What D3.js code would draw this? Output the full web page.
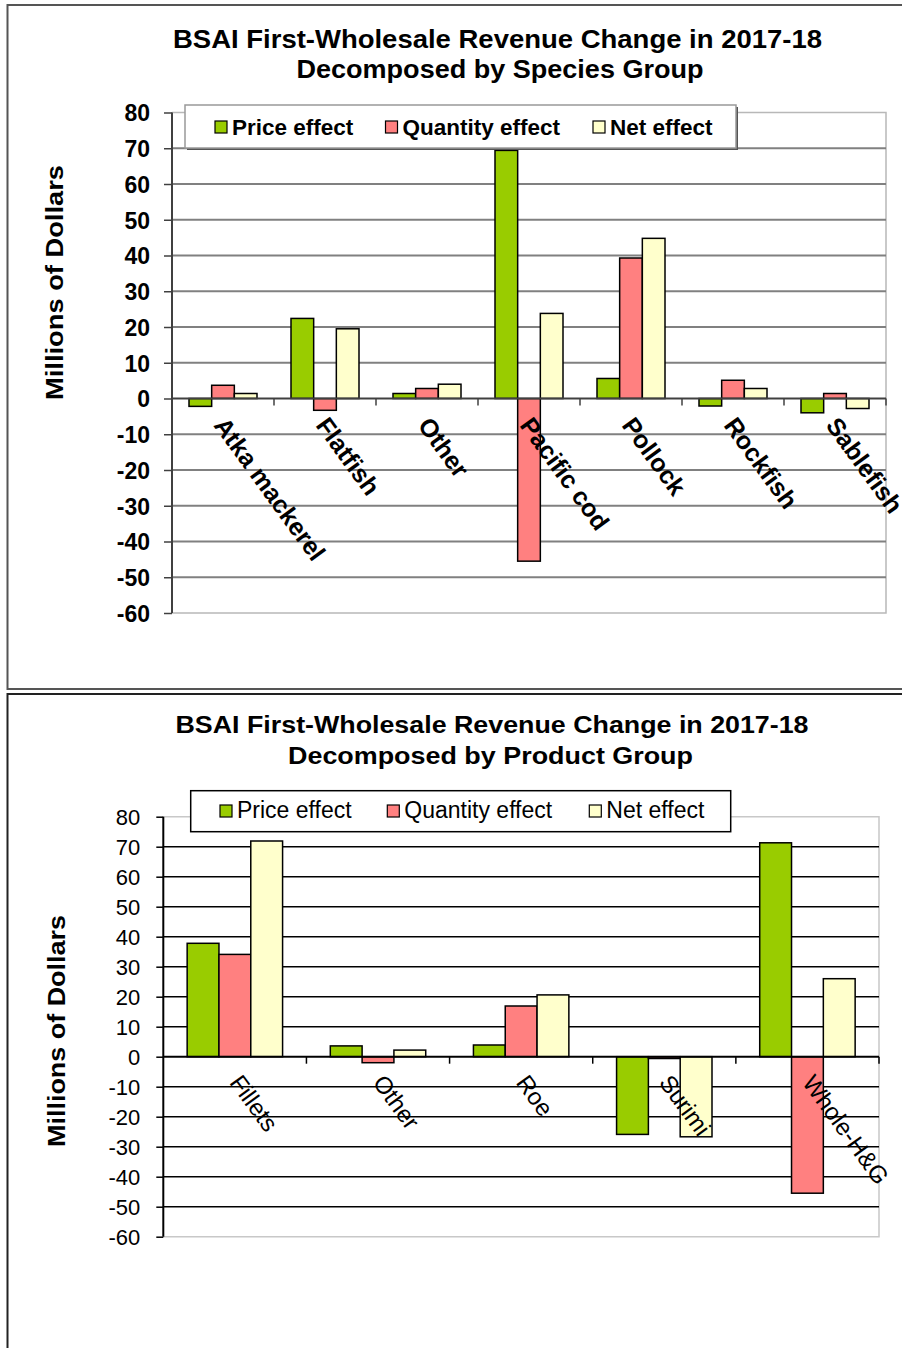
<!DOCTYPE html>
<html>
<head>
<meta charset="utf-8">
<script src="https://cdn.jsdelivr.net/npm/d3@7"></script>
<style>
  html, body { margin: 0; padding: 0; background: #fff; }
  svg { display: block; }
  text { font-family: "Liberation Sans", Arial, sans-serif; fill: #000; }
</style>
</head>
<body>
<svg id="chart" width="902" height="1348"></svg>
<script>
// ---------- DATA ----------
const seriesNames = ["Price effect", "Quantity effect", "Net effect"];
const seriesColors = ["#99CC00", "#FF8080", "#FFFFCC"];
const yTicks = [80, 70, 60, 50, 40, 30, 20, 10, 0, -10, -20, -30, -40, -50, -60];

const speciesCategories = ["Atka mackerel", "Flatfish", "Other", "Pacific cod", "Pollock", "Rockfish", "Sablefish"];
const speciesPrice    = [-2.2, 22.4, 1.4, 69.4, 5.6, -2.1, -4.0];
const speciesQuantity = [3.7, -3.3, 2.8, -45.5, 39.3, 5.1, 1.4];
const speciesNet      = [1.4, 19.5, 4.0, 23.8, 44.8, 2.8, -2.8];

const productCategories = ["Fillets", "Other", "Roe", "Surimi", "Whole-H&G"];
const productPrice    = [37.8, 3.6, 3.9, -25.9, 71.3];
const productQuantity = [34.1, -2.0, 16.9, -0.6, -45.5];
const productNet      = [71.9, 2.2, 20.6, -26.7, 26.0];

// ---------- DRAW ----------
const svg = d3.select("#chart");

// panel frames
svg.append("path").attr("d", "M903,5 H7.5 V689 H903").attr("fill", "none").attr("stroke", "#555").attr("stroke-width", 2);
svg.append("path").attr("d", "M903,694 H7.5 V1350").attr("fill", "none").attr("stroke", "#222").attr("stroke-width", 2);

function drawChart(cfg) {
  const g = svg.append("g");
  const y = d3.scaleLinear().domain([-60, 80]).range([cfg.yBottom, cfg.yTop]);
  const x0 = d3.scaleBand().domain(cfg.categories).range([cfg.xLeft, cfg.xRight]).padding(0);
  const bw = x0.bandwidth() / 4.5;
  const x1 = d3.scaleBand().domain(seriesNames).range([0.75 * bw, 3.75 * bw]).padding(0);
  const values = [cfg.price, cfg.quantity, cfg.net];

  // titles
  cfg.titles.forEach((t) => {
    g.append("text").attr("x", t.cx).attr("y", t.y)
      .attr("text-anchor", "middle").attr("font-weight", "bold")
      .attr("font-size", cfg.titleSize)
      .attr("textLength", t.len).attr("lengthAdjust", "spacingAndGlyphs")
      .text(t.text);
  });

  // y axis title
  g.append("text")
    .attr("transform", `translate(${cfg.yTitleX},${cfg.yTitleY}) rotate(-90)`)
    .attr("text-anchor", "middle").attr("font-weight", "bold").attr("font-size", 24)
    .attr("textLength", cfg.yTitleLen).attr("lengthAdjust", "spacingAndGlyphs")
    .text("Millions of Dollars");

  // plot border (top, right, bottom)
  g.append("path")
    .attr("d", `M${cfg.xLeft},${y(80)} H${cfg.xRight} V${y(-60)} H${cfg.xLeft}`)
    .attr("fill", "none").attr("stroke", cfg.borderColor).attr("stroke-width", 1.5);

  // gridlines
  g.append("g").selectAll("line").data(yTicks.filter(d => d !== 80 && d !== -60 && d !== 0)).join("line")
    .attr("x1", cfg.xLeft).attr("x2", cfg.xRight)
    .attr("y1", d => y(d)).attr("y2", d => y(d))
    .attr("stroke", cfg.gridColor).attr("stroke-width", cfg.gridWidth);

  // y axis
  const yAxis = d3.axisLeft(y).tickValues(yTicks).tickSize(cfg.tickLen).tickPadding(cfg.tickPad).tickFormat(d => String(d));
  const ya = g.append("g").attr("transform", `translate(${cfg.xLeft},0)`).call(yAxis);
  ya.select(".domain").attr("stroke", cfg.axisColor).attr("stroke-width", 2)
    .attr("d", `M0,${y(80)}V${y(-60)}`);
  ya.selectAll(".tick line").attr("stroke", cfg.axisColor).attr("stroke-width", 1.5);
  ya.selectAll(".tick text")
    .attr("font-family", '"Liberation Sans", Arial, sans-serif')
    .attr("font-size", cfg.tickSize).attr("font-weight", cfg.tickWeight).attr("fill", "#111")
    .attr("dy", "0.36em");

  // bars
  const groups = g.append("g").selectAll("g").data(cfg.categories).join("g")
    .attr("transform", d => `translate(${x0(d)},0)`);
  groups.selectAll("rect")
    .data((d, i) => seriesNames.map((s, k) => ({ s, k, v: values[k][i] })))
    .join("rect")
    .attr("x", d => x1(d.s))
    .attr("width", x1.bandwidth())
    .attr("y", d => y(Math.max(0, d.v)))
    .attr("height", d => Math.abs(y(d.v) - y(0)))
    .attr("fill", d => seriesColors[d.k])
    .attr("stroke", "#000").attr("stroke-width", 1.5);

  // zero line / x axis
  g.append("line").attr("x1", cfg.xLeft).attr("x2", cfg.xRight)
    .attr("y1", y(0)).attr("y2", y(0)).attr("stroke", cfg.axisColor).attr("stroke-width", 2);
  const bounds = cfg.categories.map(c => x0(c) + x0.bandwidth());
  g.append("g").selectAll("line").data(bounds).join("line")
    .attr("x1", d => d).attr("x2", d => d)
    .attr("y1", y(0)).attr("y2", y(0) + 7)
    .attr("stroke", cfg.axisColor).attr("stroke-width", 1.5);

  // category labels (rotated)
  g.append("g").selectAll("text").data(cfg.categories).join("text")
    .attr("transform", d => `translate(${x0(d) + x0.bandwidth() / 2 + cfg.labelDx},${y(0) + cfg.labelDy}) rotate(${cfg.labelAngle})`)
    .attr("text-anchor", "start")
    .attr("font-size", cfg.labelSize).attr("font-weight", cfg.labelWeight)
    .text(d => d);

  // legend
  const L = cfg.legend;
  if (L.shadow) {
    g.append("rect").attr("x", L.x + 2).attr("y", L.y + 2).attr("width", L.w).attr("height", L.h).attr("fill", "#555");
  }
  g.append("rect").attr("x", L.x).attr("y", L.y).attr("width", L.w).attr("height", L.h)
    .attr("fill", "#fff").attr("stroke", L.stroke).attr("stroke-width", 1.5);
  seriesNames.forEach((s, k) => {
    g.append("rect").attr("x", L.items[k]).attr("y", L.sqY).attr("width", 12).attr("height", 12)
      .attr("fill", seriesColors[k]).attr("stroke", "#000").attr("stroke-width", 1.2);
    g.append("text").attr("x", L.items[k] + 17).attr("y", L.textY)
      .attr("font-size", L.size).attr("font-weight", L.weight)
      .text(s);
  });
}

drawChart({
  categories: speciesCategories, price: speciesPrice, quantity: speciesQuantity, net: speciesNet,
  xLeft: 172, xRight: 886, yTop: 112.5, yBottom: 613,
  titleSize: 25,
  titles: [
    { text: "BSAI First-Wholesale Revenue Change in 2017-18", cx: 497.5, y: 47.5, len: 649 },
    { text: "Decomposed by Species Group", cx: 500, y: 78, len: 407 }
  ],
  yTitleX: 63, yTitleY: 282.5, yTitleLen: 235,
  borderColor: "#b8b8b8", gridColor: "#808080", gridWidth: 2, axisColor: "#404040",
  tickLen: 8, tickPad: 14, tickSize: 23, tickWeight: "bold",
  labelDx: -10, labelDy: 27, labelAngle: 54, labelSize: 25, labelWeight: "bold",
  legend: { x: 185, y: 105, w: 551, h: 43, shadow: true, stroke: "#999",
            items: [215, 385.5, 593], sqY: 121, textY: 134.5, size: 22.5, weight: "bold" }
});

drawChart({
  categories: productCategories, price: productPrice, quantity: productQuantity, net: productNet,
  xLeft: 163.3, xRight: 879, yTop: 816.7, yBottom: 1236.7,
  titleSize: 23,
  titles: [
    { text: "BSAI First-Wholesale Revenue Change in 2017-18", cx: 492, y: 733, len: 633 },
    { text: "Decomposed by Product Group", cx: 490.5, y: 763.5, len: 405 }
  ],
  yTitleX: 65, yTitleY: 1031, yTitleLen: 232,
  borderColor: "#c8c8c8", gridColor: "#000", gridWidth: 1.5, axisColor: "#000",
  tickLen: 7, tickPad: 16, tickSize: 22, tickWeight: "normal",
  labelDx: -6, labelDy: 26, labelAngle: 54, labelSize: 24, labelWeight: "normal",
  legend: { x: 190.7, y: 790.7, w: 540, h: 41, shadow: false, stroke: "#000",
            items: [220, 387.3, 589.3], sqY: 805, textY: 818, size: 23, weight: "normal" }
});
</script>
</body>
</html>
